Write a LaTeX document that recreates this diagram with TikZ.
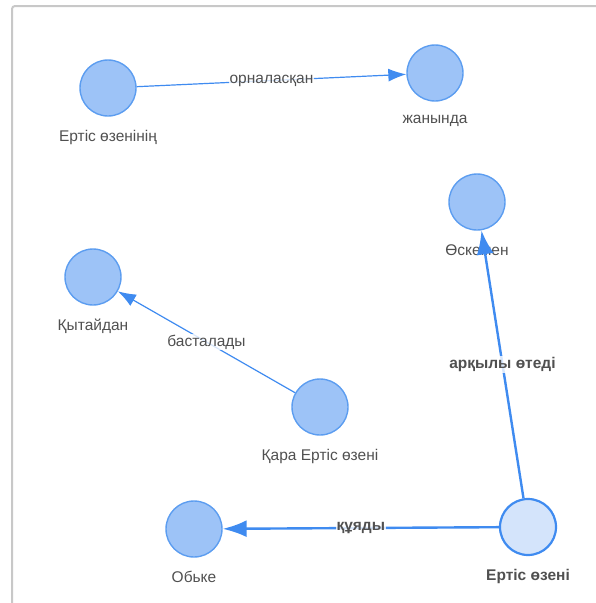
\documentclass[tikz,border=0pt]{standalone}
\usepackage{fontspec}
\setmainfont{Liberation Sans}
\usetikzlibrary{arrows.meta,positioning}

\definecolor{nodefill}{HTML}{9DC3F7}
\definecolor{nodeline}{HTML}{5C9DF0}
\definecolor{rootfill}{HTML}{D4E4FB}
\definecolor{edgeline}{HTML}{3F8BF0}
\definecolor{txtgrey}{HTML}{505050}
\definecolor{framegrey}{HTML}{C8C8C8}

\tikzset{
	concept/.style={circle,draw=nodeline,fill=nodefill,line width=1.4pt,
		minimum size=56pt,inner sep=0pt,
		label={[text=txtgrey,font=\fontsize{15.5}{17}\selectfont,label distance=10pt]below:#1}},
	root/.style={concept={\bfseries #1},fill=rootfill,draw=edgeline,line width=2.2pt},
	rel/.style={draw=edgeline,line width=1.2pt,-{Latex[length=18pt,width=13pt]}},
	strongrel/.style={rel,line width=2.4pt,-{Latex[length=24pt,width=17pt]}},
	rellabel/.style={fill=white,fill opacity=.8,text opacity=1,text=txtgrey,
		inner sep=1pt,font=\fontsize{15.5}{17}\selectfont},
	strongrellabel/.style={rellabel,font=\fontsize{15.5}{17}\selectfont\bfseries}
}

\begin{document}
\begin{tikzpicture}[x=1pt,y=-1pt]
	\useasboundingbox (0,0) rectangle (596,603);
	\draw[framegrey,line width=2pt,rounded corners=3pt]
		(12,603)--(12,6)--(596,6);
	% concepts
	\node[concept={Ертіс өзенінің}] (ertisozeninin) at (108,88) {};
	\node[concept={жанында}] (zhanynda) at (435,73) {};
	\node[concept={Өскемен}] (oskemen) at (477,202) {};
	\node[concept={Қытайдан}] (qytaydan) at (93,277) {};
	\node[concept={Қара Ертіс өзені}] (qaraertis) at (320,407) {};
	\node[concept={Обьке}] (obke) at (194,529) {};
	\node[root={Ертіс өзені}] (ertis) at (528,527) {};
	% relations
	\draw[rel] (ertisozeninin) -- node[rellabel]{орналасқан} (zhanynda);
	\draw[rel] (qaraertis) -- node[rellabel]{басталады} (qytaydan);
	\draw[strongrel] (ertis) -- node[strongrellabel]{құяды} (obke);
	\draw[strongrel] (ertis) -- node[strongrellabel]{арқылы өтеді} (oskemen);
\end{tikzpicture}
\end{document}
